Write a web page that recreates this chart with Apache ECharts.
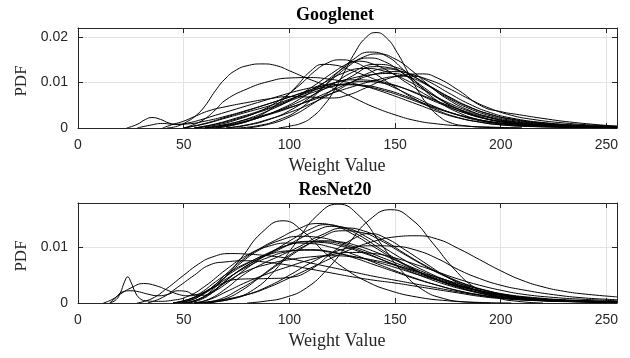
<!DOCTYPE html>
<html>
<head>
<meta charset="utf-8">
<script src="https://cdn.jsdelivr.net/npm/echarts@6/dist/echarts.min.js"></script>
<style>
  html, body { margin: 0; padding: 0; background: #fff; }
  #chart { width: 630px; height: 358px; }
</style>
</head>
<body>
<div id="chart"></div>
<script>
// 两个子图的名称
var titles = ['Googlenet', 'ResNet20'];
var xTicks = [0, 50, 100, 150, 200, 250];
// y 值以 1e-3 为单位 (10 = 0.01)
var googlenetYMax = 22;
var resnetYMax = 18;

// Googlenet: 每条曲线为 [权重值, PDF*1000]
var googlenetCurves = [
  [[95,0],[100,0.4],[106,1.1],[111,2.5],[116,4.8],[121,8.1],[126,12.3],[131,16.6],[136,19.8],[141,21],[146,19.8],[151,16.6],[156,12.3],[161,8.1],[166,4.8],[171,2.5],[176,1.2],[183,0.5],[195,0.1],[210,0]],
  [[42,0],[47,0.4],[52,1.5],[56,2.8],[60,4.8],[65,8.2],[70,11],[75,12.8],[80,13.7],[87,14.1],[94,13.7],[100,12.6],[108,11],[116,9.6],[124,8.1],[132,6.3],[140,4.6],[150,2.9],[160,1.6],[170,0.9],[180,0.5],[195,0.2],[210,0]],
  [[55,0],[65,0.6],[75,1.8],[85,3.5],[95,6],[105,9.5],[112,12.5],[118,14.3],[124,15],[130,14.6],[136,13.3],[142,11.5],[150,9],[160,6.2],[170,3.9],[180,2.3],[190,1.3],[200,0.7],[215,0.3],[235,0.15],[255,0.05]],
  [[50,0],[55,0.8],[60,2],[65,4],[70,6.2],[80,8.6],[90,10.2],[100,11],[110,11.1],[118,10.8],[126,10.2],[134,9.4],[142,8.3],[150,7],[160,5.3],[170,3.6],[180,2.2],[190,1.3],[200,0.7],[215,0.35],[235,0.15],[255,0.1]],
  [[65,0],[75,0.8],[85,2.5],[95,5.5],[103,9],[110,12.5],[116,14],[122,13.8],[128,12.9],[135,11.7],[142,10.4],[150,8.8],[160,6.6],[170,4.5],[180,2.8],[190,1.6],[200,0.9],[215,0.45],[235,0.2],[255,0.1]],
  [[40,0],[45,0.8],[50,1.5],[55,2.5],[62,3.8],[70,4.7],[80,5.6],[90,6.4],[100,6.9],[110,6.8],[120,6.6],[128,7.3],[136,8.8],[145,10.6],[155,11.7],[163,11.9],[170,11],[180,8.3],[191,4.8],[200,3.6],[209,2.9],[220,2.1],[235,1.2],[255,0.4]],
  [[75,0],[85,0.5],[95,1.8],[105,4.2],[115,8.5],[122,11.8],[130,15],[138,16.7],[146,15.8],[154,12.8],[162,9.2],[170,6],[180,3.4],[190,1.8],[200,1],[215,0.45],[235,0.2],[255,0.1]],
  [[70,0],[80,0.6],[90,1.8],[100,3.8],[110,6.8],[120,10.6],[128,13.6],[135,15.6],[142,16.3],[150,15.2],[158,12.6],[166,9.4],[175,6.3],[185,3.9],[195,2.3],[205,1.3],[220,0.6],[240,0.25],[255,0.15]],
  [[60,0],[70,0.7],[80,2],[90,3.8],[100,6],[110,8.8],[120,12],[127,14],[132,14.7],[140,14],[148,12.2],[156,9.8],[165,7.2],[175,4.8],[185,3],[195,1.8],[205,1.1],[220,0.5],[240,0.25],[255,0.15]],
  [[65,0],[75,0.8],[85,2.2],[95,4],[105,6.4],[115,9.5],[125,13],[132,14.9],[138,15.4],[145,14.6],[152,12.6],[160,9.8],[170,6.6],[180,4.1],[190,2.4],[200,1.4],[215,0.6],[235,0.25],[255,0.15]],
  [[60,0],[70,0.5],[80,1.5],[90,3],[100,4.8],[110,7],[120,9.5],[130,12.3],[141,14],[150,13.4],[158,11.6],[166,9.2],[175,6.6],[185,4.3],[195,2.7],[205,1.7],[220,0.9],[240,0.4],[255,0.2]],
  [[55,0],[65,0.9],[75,2.2],[85,3.6],[95,5.2],[105,7.2],[115,9.6],[125,12],[135,13.1],[145,12.5],[155,10.6],[165,8],[175,5.6],[185,3.7],[195,2.4],[205,1.5],[220,0.8],[240,0.35],[255,0.2]],
  [[60,0],[70,0.6],[80,1.6],[90,2.9],[100,4.4],[110,6.2],[120,8.2],[130,10.2],[140,11.8],[150,12.4],[158,11.8],[166,10.2],[175,7.8],[185,5.3],[195,3.4],[205,2.2],[220,1.2],[240,0.55],[255,0.3]],
  [[50,0],[60,0.9],[70,2.2],[80,3.5],[90,4.8],[100,6.3],[110,8],[120,9.7],[130,11],[140,11.8],[148,12],[156,11.3],[165,9.5],[175,7],[185,4.7],[195,3],[205,2],[220,1.1],[240,0.5],[255,0.25]],
  [[55,0],[65,0.8],[75,2],[85,3.4],[95,5],[105,6.8],[115,8.4],[125,9.6],[135,10.2],[145,9.8],[155,8.6],[165,6.8],[175,5],[185,3.4],[195,2.2],[205,1.4],[220,0.7],[240,0.3],[255,0.15]],
  [[50,0],[60,1],[70,2.4],[80,3.8],[90,5.3],[100,6.8],[110,8.2],[120,9.2],[127,9.5],[135,9.2],[145,8.2],[155,6.7],[165,5],[175,3.5],[185,2.3],[195,1.4],[205,0.9],[220,0.45],[240,0.2],[255,0.1]],
  [[80,0],[90,0.8],[100,2.4],[110,5],[120,8.3],[130,11.5],[140,13.5],[148,13.2],[156,11.4],[164,8.8],[172,6.2],[180,4.2],[190,2.5],[200,1.4],[215,0.6],[235,0.25],[255,0.1]],
  [[70,0],[80,0.7],[90,1.9],[100,3.4],[110,5.3],[120,7.6],[130,10.2],[138,12.2],[145,13],[152,12.6],[160,11],[168,8.8],[176,6.6],[185,4.6],[195,3],[205,1.9],[220,1],[240,0.45],[255,0.2]],
  [[60,0],[70,0.8],[80,1.9],[90,3.1],[100,4.5],[110,6],[120,7.6],[130,9.1],[140,10.4],[150,11.3],[158,11.4],[166,10.6],[175,8.8],[185,6.4],[195,4.3],[205,2.8],[215,1.9],[230,1.1],[245,0.6],[255,0.4]],
  [[23,0],[28,0.8],[32,1.9],[35,2.3],[39,1.9],[43,1.1],[47,0.8],[52,1.1],[58,1.8],[65,2.8],[75,4.2],[85,5.6],[95,7],[105,8.3],[115,9.2],[125,9.6],[135,9.4],[145,8.5],[155,7],[165,5.2],[175,3.6],[185,2.3],[195,1.4],[205,0.9],[220,0.45],[240,0.2],[255,0.1]],
  [[28,0],[34,0.6],[40,1],[46,0.8],[52,0.9],[60,1.5],[70,2.6],[80,3.9],[90,5.3],[100,6.8],[110,8.4],[120,9.8],[130,10.6],[140,10.4],[150,9.4],[160,7.6],[170,5.6],[180,3.8],[190,2.4],[200,1.5],[215,0.8],[235,0.35],[255,0.15]]
];

// ResNet20
var resnetCurves = [
  [[55,0],[63,0.2],[73,0.8],[83,2.4],[93,5.8],[103,10.8],[113,15.7],[123,17.8],[133,15.7],[143,10.8],[153,5.8],[163,2.4],[173,0.8],[183,0.2],[195,0]],
  [[80,0],[88,0.3],[98,1],[108,2.7],[118,6.1],[128,10.7],[138,15],[148,16.8],[158,15],[168,10.7],[178,6.1],[188,2.7],[198,1],[208,0.3],[220,0]],
  [[55,0],[65,0.4],[80,1.5],[90,2.8],[100,4.5],[110,6.3],[120,8.1],[130,9.8],[140,11.1],[150,11.9],[160,12.1],[170,11.5],[180,9.8],[190,7.8],[200,5.8],[210,4.1],[220,2.9],[230,2.1],[240,1.6],[255,1.1]],
  [[45,0],[57,1.3],[67,3.7],[77,8],[87,12.7],[97,14.8],[107,12.7],[117,9],[127,6],[137,3.8],[147,2.3],[160,1.1],[175,0.4],[190,0.1],[205,0]],
  [[60,0],[70,0.5],[80,1.5],[90,3],[100,5],[110,7.2],[120,9],[130,10],[140,10.3],[150,10.2],[160,9.5],[170,8],[180,6],[190,4.4],[200,3.2],[210,2.4],[225,1.5],[240,0.9],[255,0.6]],
  [[28,0],[35,0.8],[42,2.6],[50,5],[57,7],[63,8.2],[72,8.9],[80,8.8],[90,8.5],[100,8],[110,7.2],[120,6.4],[130,5.6],[140,4.8],[150,4.1],[160,3.4],[170,2.7],[180,2],[190,1.4],[200,0.9],[215,0.5],[235,0.25],[255,0.15]],
  [[33,0],[40,1],[47,2.8],[55,5],[62,6.8],[70,7.4],[80,7.6],[90,7.3],[100,6.8],[110,6.1],[120,5.4],[130,4.7],[140,4.1],[150,3.6],[160,3],[170,2.4],[180,1.8],[190,1.2],[200,0.8],[215,0.45],[235,0.2],[255,0.1]],
  [[45,0],[55,1],[65,3],[77,4.3],[90,4.4],[100,4.6],[110,6],[120,9],[130,11.5],[138,12.5],[146,11.6],[155,9.5],[165,7],[175,4.6],[185,2.8],[195,1.6],[205,0.9],[220,0.45],[240,0.2],[255,0.1]],
  [[15,0],[18,0.6],[20,1.8],[22,3.8],[23.5,4.7],[25,3.8],[27,2],[29,0.9],[32,0.4],[38,0.3],[45,0.5],[52,1.2],[60,3],[70,6],[80,8.6],[90,10.2],[100,10.8],[110,10.7],[120,10],[130,8.8],[140,7.3],[150,5.8],[160,4.4],[170,3.2],[180,2.2],[190,1.4],[200,0.9],[215,0.5],[235,0.25],[255,0.15]],
  [[12,0],[16,0.6],[20,1.6],[25,2.7],[31,3.5],[37,3.1],[43,2.2],[48,1.5],[52,1.3],[57,1.6],[63,2.6],[70,4.3],[80,6.5],[90,8.2],[100,9.3],[110,9.6],[120,9.2],[130,8.2],[140,6.9],[150,5.6],[160,4.3],[170,3.2],[180,2.2],[190,1.5],[200,1],[215,0.55],[235,0.3],[255,0.2]],
  [[15,0],[18,1],[21,2],[25,2.2],[29,2],[33,1.6],[38,1.3],[43,1.6],[47,2.2],[51,2.1],[55,1.5],[60,1.4],[65,2.2],[72,4],[80,6.3],[90,8.8],[100,10.5],[110,11.1],[118,11],[126,10.4],[135,9.2],[145,7.6],[155,6],[165,4.5],[175,3.2],[185,2.2],[195,1.4],[205,0.9],[220,0.5],[240,0.25],[255,0.15]],
  [[45,0],[52,0.4],[58,1.3],[64,3],[70,5.2],[78,7.8],[86,9.8],[95,11.6],[104,13.3],[113,14.3],[122,13.8],[130,12.4],[140,10.1],[150,7.8],[160,5.8],[170,4.1],[180,2.8],[190,1.8],[200,1.1],[215,0.6],[235,0.3],[255,0.2]],
  [[50,0],[56,0.5],[62,1.6],[68,3.4],[75,5.5],[83,7.4],[92,9.3],[102,11.6],[110,13.3],[117,14.1],[125,13.6],[133,12.2],[142,10],[151,7.8],[160,5.9],[170,4.2],[180,2.9],[190,1.9],[200,1.2],[215,0.65],[235,0.3],[255,0.2]],
  [[52,0],[58,0.6],[64,2],[70,4],[78,6.3],[86,8],[95,9.6],[105,11.6],[113,13.1],[120,13.8],[128,13.4],[136,12],[145,9.9],[155,7.6],[165,5.6],[175,4],[185,2.7],[195,1.8],[205,1.1],[220,0.6],[240,0.3],[255,0.2]],
  [[55,0],[62,0.7],[70,2.6],[78,5],[86,6.8],[95,8.4],[105,10.2],[115,12.2],[126,13.5],[135,13],[145,11.2],[155,8.8],[165,6.6],[175,4.7],[185,3.2],[195,2.1],[205,1.3],[220,0.7],[240,0.35],[255,0.2]],
  [[48,0],[54,0.6],[60,1.9],[66,3.6],[72,5.3],[80,7.1],[90,9],[100,10.5],[107,11],[115,10.9],[125,10.2],[135,9],[145,7.6],[155,6.2],[165,4.8],[175,3.6],[185,2.6],[195,1.8],[205,1.2],[220,0.65],[240,0.35],[255,0.2]],
  [[60,0],[68,0.8],[76,2.4],[84,4.2],[92,6.4],[100,8.6],[108,10.4],[115,11.2],[124,11],[133,10.2],[142,9],[152,7.4],[162,5.8],[172,4.3],[182,3],[192,2],[202,1.3],[215,0.75],[235,0.35],[255,0.2]],
  [[45,0],[52,0.6],[58,1.8],[65,3.8],[72,5.6],[80,7.2],[90,8.7],[100,9.4],[110,9.5],[120,9.1],[130,8.4],[140,7.5],[150,6.4],[160,5.2],[170,4.1],[180,3],[190,2.1],[200,1.4],[215,0.8],[235,0.4],[255,0.25]],
  [[50,0],[57,0.7],[64,2.2],[72,4.2],[80,5.8],[90,7],[100,7.8],[110,8.3],[120,8.5],[130,8.3],[140,7.7],[150,6.8],[160,5.7],[170,4.6],[180,3.5],[190,2.5],[200,1.7],[215,1],[235,0.5],[255,0.3]],
  [[62,0],[70,0.8],[78,2.4],[86,4.6],[95,7],[105,9.6],[115,11.8],[125,13],[134,12.7],[143,11.3],[152,9.3],[162,7.1],[172,5.1],[182,3.5],[192,2.3],[202,1.5],[215,0.85],[235,0.4],[255,0.2]],
  [[55,0],[62,0.6],[70,2],[80,3.8],[90,5.3],[100,6.6],[110,7.8],[120,8.7],[130,9.1],[140,8.9],[150,8.1],[160,6.9],[170,5.6],[180,4.3],[190,3.2],[200,2.3],[210,1.6],[225,1],[240,0.65],[255,0.4]],
  [[52,0],[58,0.8],[64,2.5],[70,4.8],[78,7.5],[86,9.6],[95,11.2],[105,12],[114,11.8],[123,11],[133,9.8],[143,8.3],[153,6.8],[163,5.3],[173,4],[183,2.9],[193,2],[203,1.3],[215,0.8],[235,0.4],[255,0.2]]
];

var axisColor = '#262626';
var gridColor = '#e3e3e3';
var tickFont = 'Liberation Sans, Arial, sans-serif';
var nameFont = 'Liberation Serif, Times New Roman, serif';

function xLabel(v) {
    return xTicks.indexOf(v) >= 0 ? String(v) : '';
}
function yLabel(v) {
    if (v % 10 !== 0) return '';
    return v === 0 ? '0' : String(v / 1000);
}

var grids = [
    {left: 78, top: 28, width: 539, height: 100},
    {left: 78, top: 203, width: 539, height: 100}
];

var lineAxis = {show: true, onZero: false, lineStyle: {color: axisColor, width: 1}};
var tickIn = {show: true, inside: true, length: 5, lineStyle: {color: axisColor}};

var xAxes = [];
var yAxes = [];
[googlenetYMax, resnetYMax].forEach(function (ymax, g) {
    // 下方坐标轴 (带刻度标签)
    xAxes.push({
        type: 'value', gridIndex: g, position: 'bottom', min: 0, max: 255, interval: 50,
        axisLine: lineAxis, axisTick: tickIn,
        axisLabel: {formatter: xLabel, color: axisColor, fontFamily: tickFont, fontSize: 14, margin: 10},
        splitLine: {show: true, lineStyle: {color: gridColor, width: 1}},
        name: 'Weight Value', nameLocation: 'middle', nameGap: 29,
        nameTextStyle: {fontFamily: nameFont, fontSize: 18, color: axisColor, padding: [0, 21, 0, 0]}
    });
    // 上方边框
    xAxes.push({
        type: 'value', gridIndex: g, position: 'top', min: 0, max: 255, interval: 50,
        axisLine: lineAxis, axisTick: tickIn,
        axisLabel: {show: false}, splitLine: {show: false}
    });
    yAxes.push({
        type: 'value', gridIndex: g, position: 'left', min: 0, max: ymax, interval: 10,
        axisLine: lineAxis, axisTick: tickIn,
        axisLabel: {formatter: yLabel, color: axisColor, fontFamily: tickFont, fontSize: 14, margin: 10},
        splitLine: {show: true, lineStyle: {color: gridColor, width: 1}},
        name: 'PDF', nameLocation: 'middle', nameGap: 39, nameRotate: 90,
        nameTextStyle: {fontFamily: nameFont, fontSize: 17, color: axisColor, padding: [0, 6, 0, 0]}
    });
    // 右侧边框
    yAxes.push({
        type: 'value', gridIndex: g, position: 'right', min: 0, max: ymax, interval: 10,
        axisLine: lineAxis, axisTick: tickIn,
        axisLabel: {show: false}, splitLine: {show: false}
    });
});

var series = [];
[googlenetCurves, resnetCurves].forEach(function (curves, g) {
    curves.forEach(function (pts) {
        series.push({
            type: 'line', xAxisIndex: g * 2, yAxisIndex: g * 2,
            data: pts, smooth: 0.5, showSymbol: false, symbol: 'none',
            lineStyle: {color: '#000', width: 1}, silent: true
        });
    });
});

var mcharts = echarts.init(document.getElementById('chart'));
var option = {
    animation: false,
    backgroundColor: '#fff',
    title: [
        {text: titles[0], left: 335, top: 6, textAlign: 'center', padding: 0,
         textStyle: {fontFamily: nameFont, fontWeight: 'bold', fontSize: 18, color: '#000'}},
        {text: titles[1], left: 335, top: 181, textAlign: 'center', padding: 0,
         textStyle: {fontFamily: nameFont, fontWeight: 'bold', fontSize: 18, color: '#000'}}
    ],
    grid: grids,
    xAxis: xAxes,
    yAxis: yAxes,
    series: series
};
mcharts.setOption(option, true);
</script>
</body>
</html>
